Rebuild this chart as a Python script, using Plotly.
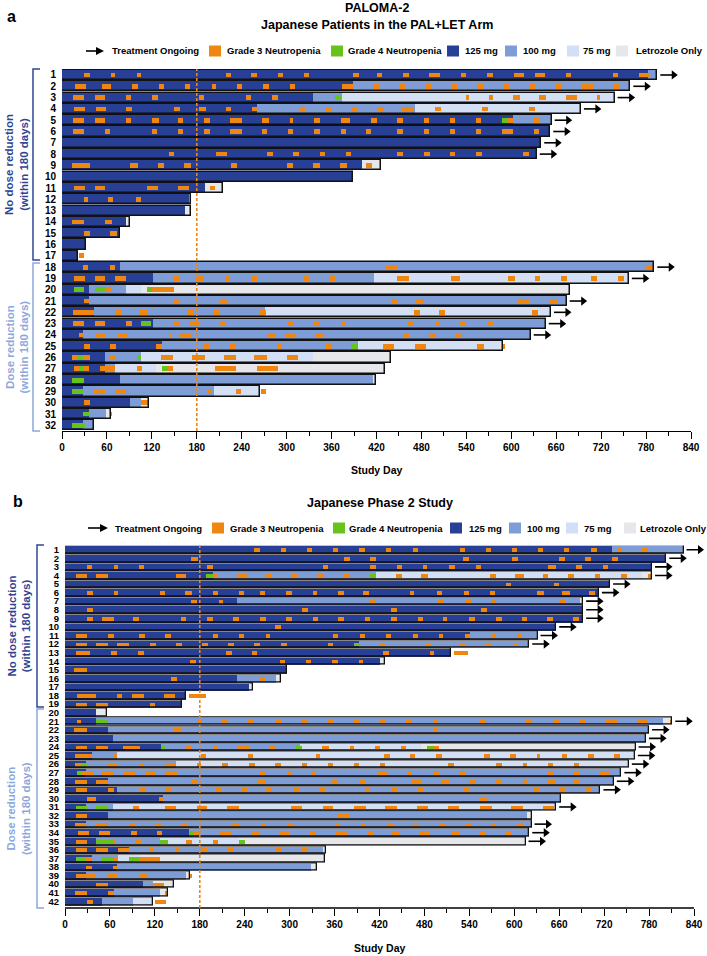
import plotly.graph_objects as go

# ============================ DATA ============================
# dose codes: 125, 100, 75 (mg palbociclib) and 0 = letrozole only
DOSE_LEVELS = [125, 100, 75, 0]
DOSE_NAMES = {125: "125 mg", 100: "100 mg", 75: "75 mg", 0: "Letrozole Only"}

# ---- Panel a: PALOMA-2, Japanese patients in the PAL+LET arm ----
# each patient: consecutive dose segments (dose, end study day), starting at day 0
A_SEGMENTS = [
    [(125, 783), (100, 795)],
    [(125, 389), (100, 759)],
    [(125, 335), (100, 374), (75, 738)],
    [(125, 260), (100, 471), (75, 693)],
    [(125, 602), (100, 654)],
    [(125, 652)],
    [(125, 640)],
    [(125, 634)],
    [(125, 400), (0, 426)],
    [(125, 388)],
    [(125, 191), (0, 215)],
    [(125, 169), (0, 172)],
    [(125, 164), (0, 172)],
    [(125, 86), (0, 91)],
    [(125, 78)],
    [(125, 32)],
    [(125, 22)],
    [(125, 77), (100, 791)],
    [(125, 121), (100, 416), (75, 757)],
    [(125, 36), (100, 85), (75, 106), (0, 678)],
    [(125, 36), (100, 674)],
    [(125, 43), (100, 271), (75, 653)],
    [(125, 121), (100, 646)],
    [(125, 28), (100, 626)],
    [(125, 134), (100, 395), (75, 585), (0, 589)],
    [(125, 57), (100, 106), (75, 335), (0, 439)],
    [(125, 57), (100, 71), (75, 126), (0, 431)],
    [(125, 77), (100, 415), (0, 419)],
    [(125, 28), (100, 203), (75, 264)],
    [(125, 91), (100, 106), (0, 116)],
    [(125, 36), (100, 59), (0, 65)],
    [(125, 28), (100, 43)],
]
# Grade 3 neutropenia episodes: patient -> [(start day, duration days)]
A_G3 = {
    1: [(29, 8), (65, 6), (100, 6), (219, 7), (253, 7), (289, 6), (323, 7), (388, 8), (421, 7), (456, 7),
        (490, 15), (533, 6), (568, 7), (604, 13), (631, 14), (673, 7), (736, 7), (771, 13)],
    2: [(17, 15), (53, 13), (94, 7), (129, 7), (164, 7), (200, 6), (234, 7), (268, 8), (304, 7), (374, 14),
        (415, 8), (451, 7), (486, 7), (521, 7), (555, 7), (590, 7), (625, 7), (660, 8), (695, 15), (737, 7)],
    3: [(15, 15), (44, 14), (85, 7), (120, 8), (183, 6), (246, 6), (281, 7), (539, 4), (570, 5), (602, 9),
        (637, 9), (673, 15), (715, 4)],
    4: [(16, 15), (45, 14), (86, 7), (149, 8), (183, 9), (219, 7), (254, 8), (316, 8), (352, 8), (386, 8),
        (422, 8), (454, 16), (498, 8), (561, 8), (623, 8)],
    5: [(15, 15), (44, 14), (85, 7), (120, 10), (155, 7), (190, 8), (225, 15), (267, 9), (304, 4), (337, 8),
        (372, 13), (413, 7), (448, 7), (483, 7), (518, 7), (553, 7), (595, 7), (630, 7)],
    6: [(15, 15), (58, 6), (120, 7), (155, 7), (190, 7), (225, 15), (267, 7), (302, 6), (337, 7), (372, 7),
        (406, 7), (448, 7), (483, 7), (518, 7), (553, 7), (588, 14), (630, 7)],
    8: [(143, 6), (206, 14), (274, 8), (308, 8), (344, 7), (379, 7), (448, 7), (483, 8), (518, 7), (553, 8),
        (616, 7)],
    9: [(14, 24), (91, 11), (128, 8), (163, 9), (226, 8), (300, 8), (335, 10), (371, 9), (406, 8)],
    11: [(16, 15), (44, 14), (114, 14), (155, 14), (197, 7)],
    12: [(29, 6), (62, 6), (99, 7)],
    14: [(14, 16), (58, 9)],
    15: [(29, 8), (64, 9)],
    17: [(23, 7)],
    18: [(28, 7), (64, 7), (433, 15), (779, 11)],
    19: [(16, 15), (44, 14), (71, 14), (148, 9), (182, 8), (218, 7), (253, 8), (323, 7), (357, 7), (447, 16),
         (519, 13), (596, 9), (631, 7), (666, 9), (707, 8), (742, 8)],
    20: [(59, 6), (120, 30)],
    21: [(30, 7), (148, 9), (211, 9), (441, 8), (473, 9), (609, 15), (651, 10)],
    22: [(15, 28), (71, 9), (104, 10), (167, 8), (202, 9), (265, 8), (470, 8), (504, 8), (628, 8)],
    23: [(15, 15), (44, 14), (85, 8), (149, 8), (169, 14), (211, 8), (302, 8), (337, 7), (372, 7), (462, 8),
         (498, 7), (532, 8), (568, 8)],
    24: [(23, 7), (44, 15), (75, 12), (143, 3), (157, 16), (275, 11), (298, 15), (339, 9), (455, 9), (490, 9),
         (525, 9)],
    25: [(30, 7), (64, 8), (125, 9), (190, 7), (224, 7), (287, 7), (352, 8), (429, 15), (471, 15), (554, 9),
         (589, 3)],
    26: [(14, 6), (28, 9), (64, 8), (132, 16), (174, 17), (216, 16), (257, 17), (300, 15)],
    27: [(16, 7), (29, 7), (51, 20), (100, 7), (141, 7), (204, 28), (260, 28)],
    29: [(43, 15), (72, 13), (195, 4), (232, 7), (266, 7)],
    30: [(30, 7), (106, 10)],
    31: [(64, 3)],
}
# Grade 4 neutropenia episodes
A_G4 = {
    3: [(364, 8)],
    5: [(588, 7)],
    20: [(16, 13), (44, 15), (113, 7)],
    23: [(106, 13)],
    25: [(386, 9)],
    26: [(20, 8), (100, 6)],
    27: [(23, 6), (133, 8)],
    28: [(14, 16)],
    29: [(14, 14)],
    31: [(28, 8)],
    32: [(14, 17)],
}
A_ONGOING = [1, 2, 3, 4, 5, 6, 7, 8, 18, 19, 21, 22, 23, 24]

# ---- Panel b: Japanese Phase 2 study ----
B_SEGMENTS = [
    [(125, 730), (100, 826)],
    [(125, 803)],
    [(125, 784)],
    [(125, 198), (100, 415), (75, 770), (0, 784)],
    [(125, 728)],
    [(125, 713)],
    [(125, 230), (100, 688), (0, 692)],
    [(125, 692)],
    [(125, 692)],
    [(125, 656)],
    [(125, 541), (100, 631)],
    [(125, 393), (100, 620)],
    [(125, 515)],
    [(125, 421), (0, 427)],
    [(125, 297)],
    [(125, 230), (100, 282), (0, 289)],
    [(125, 246), (0, 251)],
    [(125, 162)],
    [(125, 156)],
    [(125, 42), (0, 56)],
    [(125, 42), (100, 798), (0, 811)],
    [(125, 57), (100, 780)],
    [(125, 64), (100, 776)],
    [(125, 128), (100, 314), (75, 476), (0, 762)],
    [(125, 36), (100, 70), (75, 761)],
    [(125, 28), (100, 148), (75, 753)],
    [(125, 28), (100, 743)],
    [(125, 57), (100, 733)],
    [(125, 69), (100, 715)],
    [(125, 131), (100, 663)],
    [(125, 28), (100, 64), (75, 656)],
    [(125, 57), (100, 617), (0, 623)],
    [(125, 28), (100, 623)],
    [(125, 166), (100, 620)],
    [(125, 42), (100, 127), (75, 233), (0, 615)],
    [(125, 85), (100, 344), (0, 349)],
    [(125, 36), (100, 71), (75, 99), (0, 347)],
    [(125, 70), (100, 329), (0, 336)],
    [(125, 28), (100, 162), (0, 167)],
    [(125, 104), (100, 117), (0, 145)],
    [(125, 65), (100, 127), (0, 137)],
    [(125, 49), (100, 91), (75, 118)],
]
B_G3 = {
    1: [(252, 8), (288, 7), (323, 7), (358, 7), (393, 8), (429, 7), (465, 6), (527, 7), (562, 7), (597, 6),
        (631, 8), (666, 7), (702, 8), (737, 7), (771, 8)],
    2: [(168, 9), (372, 9), (407, 8), (532, 8), (597, 8), (660, 8), (694, 8), (730, 8)],
    3: [(29, 7), (65, 6), (99, 7), (190, 7), (344, 7), (407, 8), (443, 7), (478, 6), (513, 8), (549, 7),
        (645, 11), (682, 8), (718, 7)],
    4: [(15, 14), (42, 15), (148, 14), (197, 6), (230, 13), (268, 8), (303, 7), (338, 8), (372, 8), (442, 8),
        (476, 9), (568, 8), (601, 12), (638, 7), (672, 8), (708, 7), (743, 8), (779, 4)],
    5: [(589, 7), (653, 7)],
    6: [(29, 8), (65, 6), (127, 7), (160, 10), (197, 7), (233, 6), (260, 7), (295, 8), (331, 6), (365, 7),
        (398, 8), (461, 5), (497, 7), (533, 7), (567, 7), (630, 10), (664, 10), (700, 8)],
    7: [(168, 8), (205, 6), (407, 8), (498, 8), (535, 8), (569, 7), (660, 8)],
    8: [(29, 8), (317, 8), (436, 8), (555, 8)],
    9: [(29, 8), (50, 15), (91, 8), (155, 7), (190, 7), (225, 8), (260, 8), (295, 8), (331, 7), (365, 7),
        (401, 6), (435, 8), (471, 7), (505, 5), (540, 7), (575, 8), (610, 7), (644, 8), (679, 7)],
    10: [(280, 8)],
    11: [(15, 14), (57, 8), (99, 8), (134, 8), (197, 7), (232, 7), (269, 5), (358, 7), (394, 7), (429, 7),
         (465, 6), (499, 6), (534, 7), (569, 7), (603, 7)],
    12: [(15, 14), (42, 15), (69, 17), (113, 8), (148, 8), (183, 8), (218, 8), (253, 7), (288, 8), (351, 7),
         (421, 8), (482, 8), (527, 7), (562, 8), (598, 6)],
    13: [(15, 19), (61, 9), (97, 8), (215, 8), (250, 7), (425, 8), (488, 5), (520, 18)],
    14: [(167, 8), (287, 7), (322, 7), (356, 8), (392, 6)],
    15: [(12, 17)],
    16: [(142, 7), (260, 7)],
    18: [(16, 25), (70, 6), (90, 15), (132, 15), (165, 23)],
    19: [(15, 15), (42, 15), (113, 7)],
    21: [(16, 6), (176, 7), (210, 8), (245, 7), (280, 8), (315, 8), (350, 8), (385, 8), (420, 8), (455, 9),
         (491, 7), (554, 8), (616, 8), (652, 8), (687, 9), (722, 15), (764, 15), (808, 3)],
    22: [(12, 17), (146, 10), (491, 7)],
    24: [(15, 14), (42, 15), (78, 22), (162, 7), (197, 7), (231, 16), (274, 8), (343, 9), (380, 6), (414, 7),
         (449, 7), (491, 9)],
    25: [(13, 23), (65, 5), (182, 6), (245, 6), (335, 6), (426, 8), (461, 7), (496, 7), (559, 8), (594, 8),
         (630, 5), (664, 7), (699, 7), (733, 8)],
    26: [(13, 9), (57, 14), (99, 6), (134, 14), (176, 6), (210, 8), (246, 8), (281, 7), (316, 7), (351, 7),
         (386, 7), (421, 7), (512, 8), (576, 7), (611, 6), (645, 7), (680, 6)],
    27: [(21, 17), (49, 16), (79, 14), (108, 14), (134, 15), (260, 8), (296, 7), (329, 6), (418, 12), (457, 7),
         (491, 9), (526, 8), (645, 8), (680, 8), (715, 13)],
    28: [(13, 16), (42, 15), (168, 9), (257, 11), (357, 8), (393, 7), (464, 11), (502, 11), (540, 8), (576, 8),
         (611, 6), (645, 9), (680, 7)],
    29: [(15, 14), (58, 7), (99, 9), (134, 7), (200, 8), (235, 8), (269, 8), (305, 7), (340, 7), (402, 5),
         (435, 8), (471, 7), (533, 8), (625, 8), (661, 7), (696, 7)],
    30: [(29, 13), (125, 7), (554, 9)],
    31: [(91, 8), (134, 14), (176, 14), (217, 15), (302, 15), (344, 14), (386, 16), (428, 15), (470, 15),
         (512, 14), (554, 16), (596, 15), (638, 15)],
    32: [(15, 15), (365, 15)],
    33: [(13, 15), (42, 15), (86, 7), (121, 7), (156, 7), (222, 11), (262, 7), (297, 7), (360, 7), (395, 7),
         (430, 8), (465, 7), (500, 7), (535, 7), (570, 6), (605, 7)],
    34: [(18, 14), (46, 14), (88, 8), (123, 7), (172, 8), (207, 15), (248, 13), (287, 12), (327, 8), (362, 15),
         (404, 7), (437, 9), (474, 13), (516, 11), (554, 8), (589, 8)],
    35: [(15, 14), (65, 3), (93, 9), (162, 7), (197, 7)],
    36: [(15, 14), (42, 15), (71, 14), (113, 6), (148, 6), (182, 7), (218, 7), (282, 6), (316, 7)],
    37: [(28, 8), (65, 6), (99, 28)],
    38: [(28, 8), (64, 6)],
    39: [(15, 27), (57, 13), (99, 10), (166, 4)],
    40: [(42, 15), (118, 14)],
    41: [(13, 16), (57, 8), (134, 2)],
    42: [(29, 8), (120, 15)],
}
B_G4 = {
    4: [(188, 9), (407, 8)],
    12: [(386, 8)],
    21: [(42, 16)],
    24: [(128, 6), (309, 7), (483, 8)],
    26: [(22, 7)],
    27: [(16, 5)],
    31: [(15, 15), (42, 16)],
    34: [(165, 7)],
    35: [(42, 23), (127, 11), (233, 7)],
    37: [(15, 13), (49, 16), (85, 14)],
}
B_ONGOING = [1, 2, 3, 4, 5, 6, 7, 8, 9, 10, 11, 12, 21, 22, 23, 24, 25, 26, 27, 28, 29, 31, 33, 34, 35]

X_TICKS = list(range(0, 841, 60))
X_MAX = 840
LANDMARK_DAY = 180

# ============================ STYLE ============================
W, H = 707, 956
FONT = "Liberation Sans, Arial, sans-serif"
COL = {125: "#283F96", 100: "#7E9DD6", 75: "#D3DFF4", 0: "#E6E7EB"}
ORANGE = "#EE860F"
GREEN = "#67C21C"
DARK_TXT = "#2F4594"
LIGHT_TXT = "#8DA8DC"


def px(x):
    return x / W


def py(y):
    return 1 - y / H


fig = go.Figure()
shapes = []
annotations = []


def add_panel(segs, g3, g4, ongoing, xa, ya, bar_w, ev_w, line_w):
    rows = list(range(1, len(segs) + 1))
    for dose in DOSE_LEVELS:
        ys, bases, lens = [], [], []
        for r, s in zip(rows, segs):
            start = 0
            for d, end in s:
                if d == dose:
                    ys.append(r)
                    bases.append(start)
                    lens.append(end - start)
                start = end
        fig.add_trace(go.Bar(orientation="h", y=ys, x=lens, base=bases, width=bar_w,
                             marker=dict(color=COL[dose], line=dict(width=0)),
                             xaxis=xa, yaxis=ya, hoverinfo="skip", showlegend=False,
                             name=DOSE_NAMES[dose]))
    for events, color in ((g3, ORANGE), (g4, GREEN)):
        ys, bases, lens = [], [], []
        for r, lst in events.items():
            for st, du in lst:
                ys.append(r)
                bases.append(st)
                lens.append(du)
        fig.add_trace(go.Bar(orientation="h", y=ys, x=lens, base=bases, width=ev_w,
                             marker=dict(color=color, line=dict(width=0)),
                             xaxis=xa, yaxis=ya, hoverinfo="skip", showlegend=False))
    ends = [s[-1][1] for s in segs]
    fig.add_trace(go.Bar(orientation="h", y=rows, x=ends, base=[0] * len(rows), width=bar_w,
                         marker=dict(color="rgba(0,0,0,0)", line=dict(color="#111111", width=line_w)),
                         xaxis=xa, yaxis=ya, hoverinfo="skip", showlegend=False))
    # ongoing arrows
    lx, ly, hx, hy = [], [], [], []
    for r in ongoing:
        e = ends[r - 1]
        lx += [e + 4, e + 21, None]
        ly += [r, r, None]
        hx.append(e + 22)
        hy.append(r)
    fig.add_trace(go.Scatter(x=lx, y=ly, mode="lines", line=dict(color="black", width=1.6),
                             xaxis=xa, yaxis=ya, hoverinfo="skip", showlegend=False, cliponaxis=False))
    fig.add_trace(go.Scatter(x=hx, y=hy, mode="markers",
                             marker=dict(symbol="triangle-right", size=8, color="black", line=dict(width=0)),
                             xaxis=xa, yaxis=ya, hoverinfo="skip", showlegend=False, cliponaxis=False))
    return rows


rows_a = add_panel(A_SEGMENTS, A_G3, A_G4, A_ONGOING, "x", "y", 0.9, 0.42, 1.5)
rows_b = add_panel(B_SEGMENTS, B_G3, B_G4, B_ONGOING, "x2", "y2", 0.88, 0.45, 1.3)

axis_common = dict(showgrid=False, zeroline=False)
xfont = dict(family=FONT, size=10, color="black", weight="bold")


def xaxis(left_px, right_px, anchor, extend_to_px=None):
    # axis scale: X_MAX days spans left_px..right_px; the plotting area may extend further right
    # (room for 'ongoing' arrows), with the axis line itself drawn only to X_MAX.
    dom_right = right_px if extend_to_px is None else extend_to_px
    rmax = X_MAX * (dom_right - left_px) / (right_px - left_px)
    return dict(domain=[px(left_px), px(dom_right)], anchor=anchor, range=[0, rmax], tickvals=X_TICKS,
                ticktext=[str(t) for t in X_TICKS], ticks="outside", ticklen=7, tickwidth=1.3,
                tickcolor="black", showline=extend_to_px is None, linecolor="black", linewidth=1.3,
                minor=dict(tickvals=list(range(30, X_MAX, 60)), ticks="outside", ticklen=4, tickwidth=1.2,
                           tickcolor="black"),
                tickfont=xfont, automargin=False, fixedrange=True, **axis_common)


def yaxis(domain, anchor, rows, rng, size):
    return dict(domain=domain, anchor=anchor, range=rng, tickvals=rows, ticktext=[str(r) for r in rows],
                ticks="", showline=False, tickfont=dict(family=FONT, size=size, color="black", weight="bold"),
                ticklabelstandoff=5, automargin=False, fixedrange=True, **axis_common)


# x-axis line of panel b drawn only over 0..X_MAX
shapes.append(dict(type="line", xref="x2", yref="paper", x0=0, x1=X_MAX, y0=py(908), y1=py(908),
                   line=dict(color="black", width=1.3), layer="above"))

# landmark line (day 180)
for xr, yr in (("x", "y domain"), ("x2", "y2 domain")):
    shapes.append(dict(type="line", xref=xr, yref=yr, x0=LANDMARK_DAY, x1=LANDMARK_DAY, y0=0, y1=1,
                       line=dict(color=ORANGE, width=1.6, dash="3px,2px"), layer="above"))

# axis titles
for xr, ypix in (("x", 470), ("x2", 948)):
    annotations.append(dict(text="<b>Study Day</b>", xref=xr, yref="paper", x=X_MAX / 2, y=py(ypix),
                            showarrow=False, font=dict(family=FONT, size=10.5, color="black"),
                            xanchor="center", yanchor="middle"))

# panel titles
annotations += [
    dict(text="<b>a</b>", x=px(5), y=py(16), xanchor="left"),
    dict(text="<b>PALOMA-2</b>", x=px(377), y=py(8), xanchor="center"),
    dict(text="<b>Japanese Patients in the PAL+LET Arm</b>", x=px(377), y=py(25), xanchor="center"),
    dict(text="<b>b</b>", x=px(11), y=py(502), xanchor="left"),
    dict(text="<b>Japanese Phase 2 Study</b>", x=px(380), y=py(503), xanchor="center"),
]
for a in annotations[-5:]:
    a.update(xref="paper", yref="paper", showarrow=False, yanchor="middle",
             font=dict(family=FONT, size=16 if a["text"] in ("<b>a</b>", "<b>b</b>") else 12.5, color="black"))


# legends (drawn manually)
def legend(ypix, arrow, items):
    x0, x1 = arrow
    shapes.append(dict(type="line", xref="paper", yref="paper", x0=px(x0), x1=px(x1 - 5), y0=py(ypix),
                       y1=py(ypix), line=dict(color="black", width=1.6)))
    shapes.append(dict(type="path", xref="paper", yref="paper", fillcolor="black", line=dict(width=0),
                       path=f"M {px(x1 - 8)},{py(ypix - 4)} L {px(x1)},{py(ypix)} L {px(x1 - 8)},{py(ypix + 4)} Z"))
    for sq, txt_x, label, color in items:
        if sq is not None:
            shapes.append(dict(type="rect", xref="paper", yref="paper", x0=px(sq), x1=px(sq + 12),
                               y0=py(ypix - 5.5), y1=py(ypix + 5.5), fillcolor=color, line=dict(width=0)))
        annotations.append(dict(text=f"<b>{label}</b>", xref="paper", yref="paper", x=px(txt_x), y=py(ypix),
                                xanchor="left", yanchor="middle", showarrow=False,
                                font=dict(family=FONT, size=9.5, color="black")))


legend(51, (86, 104), [
    (None, 110, "Treatment Ongoing", None),
    (209, 225, "Grade 3 Neutropenia", ORANGE),
    (331, 346, "Grade 4 Neutropenia", GREEN),
    (447, 463, DOSE_NAMES[125], COL[125]),
    (505, 521, DOSE_NAMES[100], COL[100]),
    (567, 581, DOSE_NAMES[75], COL[75]),
    (616, 634, DOSE_NAMES[0], COL[0]),
])
legend(528, (88, 108), [
    (None, 113, "Treatment Ongoing", None),
    (212, 228, "Grade 3 Neutropenia", ORANGE),
    (333, 347, "Grade 4 Neutropenia", GREEN),
    (450, 467, DOSE_NAMES[125], COL[125]),
    (509, 525, DOSE_NAMES[100], COL[100]),
    (566, 582, DOSE_NAMES[75], COL[75]),
    (624, 638, DOSE_NAMES[0], COL[0]),
])


# group brackets and labels
def bracket(xline, top, bottom, color, text, xtext):
    shapes.append(dict(type="path", xref="paper", yref="paper", line=dict(color=color, width=1.5),
                       path=f"M {px(xline + 7)},{py(top)} L {px(xline)},{py(top)} L {px(xline)},{py(bottom)} "
                            f"L {px(xline + 7)},{py(bottom)}"))
    annotations.append(dict(text=text, xref="paper", yref="paper", x=px(xtext), y=py((top + bottom) / 2),
                            textangle=-90, showarrow=False, xanchor="center", yanchor="middle",
                            font=dict(family=FONT, size=11.5, color=color)))


bracket(33, 69, 260, DARK_TXT, "<b>No dose reduction<br>(within 180 days)</b>", 16.5)
bracket(33, 263, 431, LIGHT_TXT, "<b>Dose reduction<br>(within 180 days)</b>", 16.5)
bracket(37, 545, 707, DARK_TXT, "<b>No dose reduction<br>(within 180 days)</b>", 18.5)
bracket(37, 709, 908, LIGHT_TXT, "<b>Dose reduction<br>(within 180 days)</b>", 18.5)

fig.update_layout(
    width=W, height=H, autosize=False, template="none",
    margin=dict(l=0, r=0, t=0, b=0),
    paper_bgcolor="white", plot_bgcolor="white",
    barmode="overlay", bargap=0, showlegend=False,
    xaxis=xaxis(62, 691, "y"),
    yaxis=yaxis([py(431), py(69)], "x", rows_a, [32.5, 0.47], 10),
    xaxis2=xaxis(65, 694, "y2", extend_to_px=W),
    yaxis2=yaxis([py(908), py(545.5)], "x2", rows_b, [42.78, 0.51], 9.5),
    shapes=shapes, annotations=annotations,
    font=dict(family=FONT, color="black"),
)

fig.write_html("out.html", config={"displayModeBar": False},
               post_script="document.body.style.margin='0';document.body.style.padding='0';")
